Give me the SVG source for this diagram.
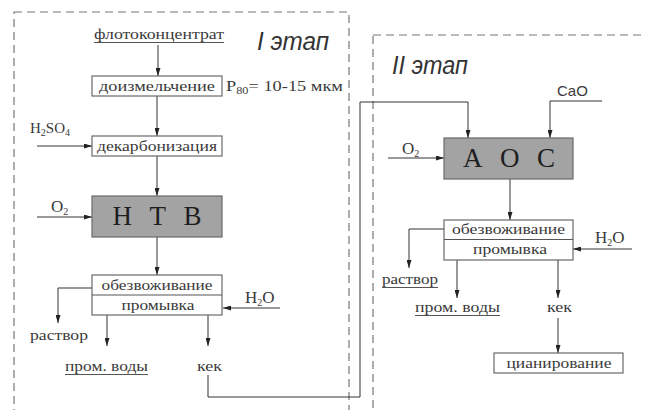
<svg xmlns="http://www.w3.org/2000/svg" width="646" height="410" viewBox="0 0 646 410">
<defs>
<marker id="ah" viewBox="0 0 8 5" refX="8" refY="2.5" markerWidth="8" markerHeight="5" markerUnits="userSpaceOnUse" orient="auto">
<path d="M0,0 L8,2.5 L0,5 Z" fill="#222"/>
</marker>
<style>
.t{font-family:"Liberation Serif","DejaVu Serif","Times New Roman",serif;font-size:15px;fill:#3a3a3a}
.h{font-family:"Liberation Serif","DejaVu Serif","Times New Roman",serif;font-size:17px;fill:#3a3a3a}
.s{font-family:"Liberation Sans",Arial,sans-serif;font-size:15px;fill:#3a3a3a}
.st{font-family:"Liberation Sans","DejaVu Sans",Arial,sans-serif;font-size:25px;font-style:italic;fill:#333}
.big{font-family:"Liberation Serif","DejaVu Serif","Times New Roman",serif;font-size:27px;fill:#1e1e1e}
.box{fill:#fff;stroke:#6a6a6a;stroke-width:1.2}
.gbox{fill:#a3a3a3;stroke:#6a6a6a;stroke-width:1.2}
.dash{fill:none;stroke:#777;stroke-width:1.2;stroke-dasharray:8 5}
.c{fill:none;stroke:#333;stroke-width:1}
.a{marker-end:url(#ah)}
.u{stroke:#555;stroke-width:1}
.sub{font-size:10px}
</style>
</defs>
<rect width="646" height="410" fill="#fff"/>
<rect class="dash" x="14" y="12" width="335" height="420"/>
<rect class="dash" x="373" y="35" width="300" height="400"/>
<text class="st" x="257" y="50" textLength="72" lengthAdjust="spacingAndGlyphs">I этап</text>
<text class="st" x="392" y="74" textLength="76" lengthAdjust="spacingAndGlyphs">II этап</text>
<g id="connectors">
<line class="c a" x1="158" y1="45" x2="158" y2="76"/>
<line class="c a" x1="157" y1="96" x2="157" y2="136"/>
<line class="c a" x1="37" y1="146" x2="92" y2="146"/>
<line class="c a" x1="157" y1="156" x2="157" y2="196"/>
<line class="c a" x1="37" y1="217" x2="92" y2="217"/>
<line class="c a" x1="157" y1="237" x2="157" y2="275"/>
<polyline class="c a" points="93,288 58,288 58,323"/>
<line class="c a" x1="107" y1="315" x2="107" y2="346"/>
<line class="c a" x1="208" y1="315" x2="208" y2="346"/>
<line class="c a" x1="280" y1="308" x2="223" y2="308"/>
<polyline class="c a" points="208,375 208,397 360,397 360,102 468,102 468,138"/>
<polyline class="c a" points="602,101 550,101 550,138"/>
<line class="c a" x1="388" y1="158" x2="444" y2="158"/>
<line class="c a" x1="510" y1="179" x2="510" y2="220"/>
<polyline class="c a" points="444,229 409,229 409,268"/>
<line class="c a" x1="457" y1="260" x2="457" y2="298"/>
<line class="c a" x1="558" y1="260" x2="558" y2="298"/>
<line class="c a" x1="558" y1="318" x2="558" y2="353"/>
<line class="c a" x1="632" y1="249" x2="573" y2="249"/>
</g>
<g id="flotoconcentrate">
<text class="t" x="159" y="39" text-anchor="middle" textLength="130" lengthAdjust="spacingAndGlyphs">флотоконцентрат</text>
<line class="u" x1="94" y1="42.5" x2="224" y2="42.5"/>
</g>
<g id="regrinding">
<rect class="box" x="92" y="76" width="130" height="20"/>
<text class="t" x="157" y="91" text-anchor="middle" textLength="116" lengthAdjust="spacingAndGlyphs">доизмельчение</text>
<text class="t" x="226" y="91" textLength="117" lengthAdjust="spacingAndGlyphs">P<tspan class="sub" dy="3">80</tspan><tspan dy="-3">= 10-15 мкм</tspan></text>
</g>
<g id="decarbonization">
<text class="t" x="30" y="133">H<tspan class="sub" dy="3">2</tspan><tspan dy="-3">SO</tspan><tspan class="sub" dy="3">4</tspan></text>
<rect class="box" x="92" y="136" width="130" height="20"/>
<text class="t" x="157" y="151" text-anchor="middle" textLength="120" lengthAdjust="spacingAndGlyphs">декарбонизация</text>
</g>
<g id="ntv">
<text class="h" x="51" y="212">O<tspan class="sub" dy="3">2</tspan></text>
<rect class="gbox" x="92" y="196" width="130" height="41"/>
<text class="big" x="157" y="225" text-anchor="middle" textLength="89" lengthAdjust="spacing">Н Т В</text>
</g>
<g id="wash1">
<rect class="box" x="92" y="275" width="130" height="40"/>
<line class="u" x1="92" y1="295" x2="222" y2="295"/>
<text class="t" x="157" y="290" text-anchor="middle" textLength="111" lengthAdjust="spacingAndGlyphs">обезвоживание</text>
<text class="t" x="158" y="310" text-anchor="middle" textLength="73" lengthAdjust="spacingAndGlyphs">промывка</text>
<text class="h" x="245" y="303">H<tspan class="sub" dy="3">2</tspan><tspan dy="-3">O</tspan></text>
<text class="t" x="30" y="340" textLength="58" lengthAdjust="spacingAndGlyphs">раствор</text>
<text class="t" x="65" y="371" textLength="83" lengthAdjust="spacingAndGlyphs">пром. воды</text>
<line class="u" x1="65" y1="374.5" x2="148" y2="374.5"/>
<text class="t" x="197" y="371" textLength="25" lengthAdjust="spacingAndGlyphs">кек</text>
</g>
<g id="aos">
<text class="s" x="557" y="96">CaO</text>
<text class="h" x="402" y="154">O<tspan class="sub" dy="3">2</tspan></text>
<rect class="gbox" x="444" y="138" width="129" height="41"/>
<text class="big" x="509" y="167" text-anchor="middle" textLength="92" lengthAdjust="spacing">А О С</text>
</g>
<g id="wash2">
<rect class="box" x="444" y="220" width="129" height="40"/>
<line class="u" x1="444" y1="239.5" x2="573" y2="239.5"/>
<text class="t" x="508.5" y="234" text-anchor="middle" textLength="113" lengthAdjust="spacingAndGlyphs">обезвоживание</text>
<text class="t" x="510" y="254" text-anchor="middle" textLength="74" lengthAdjust="spacingAndGlyphs">промывка</text>
<text class="h" x="595" y="243">H<tspan class="sub" dy="3">2</tspan><tspan dy="-3">O</tspan></text>
<text class="t" x="382" y="284" textLength="56" lengthAdjust="spacingAndGlyphs">раствор</text>
<line class="u" x1="382" y1="287.5" x2="438" y2="287.5"/>
<text class="t" x="415" y="312" textLength="85" lengthAdjust="spacingAndGlyphs">пром. воды</text>
<line class="u" x1="415" y1="315.5" x2="500" y2="315.5"/>
<text class="t" x="547" y="312" textLength="25" lengthAdjust="spacingAndGlyphs">кек</text>
</g>
<g id="cyanidation">
<rect class="box" x="494" y="353" width="129" height="20"/>
<text class="t" x="559" y="368" text-anchor="middle" textLength="105" lengthAdjust="spacingAndGlyphs">цианирование</text>
</g>
</svg>
